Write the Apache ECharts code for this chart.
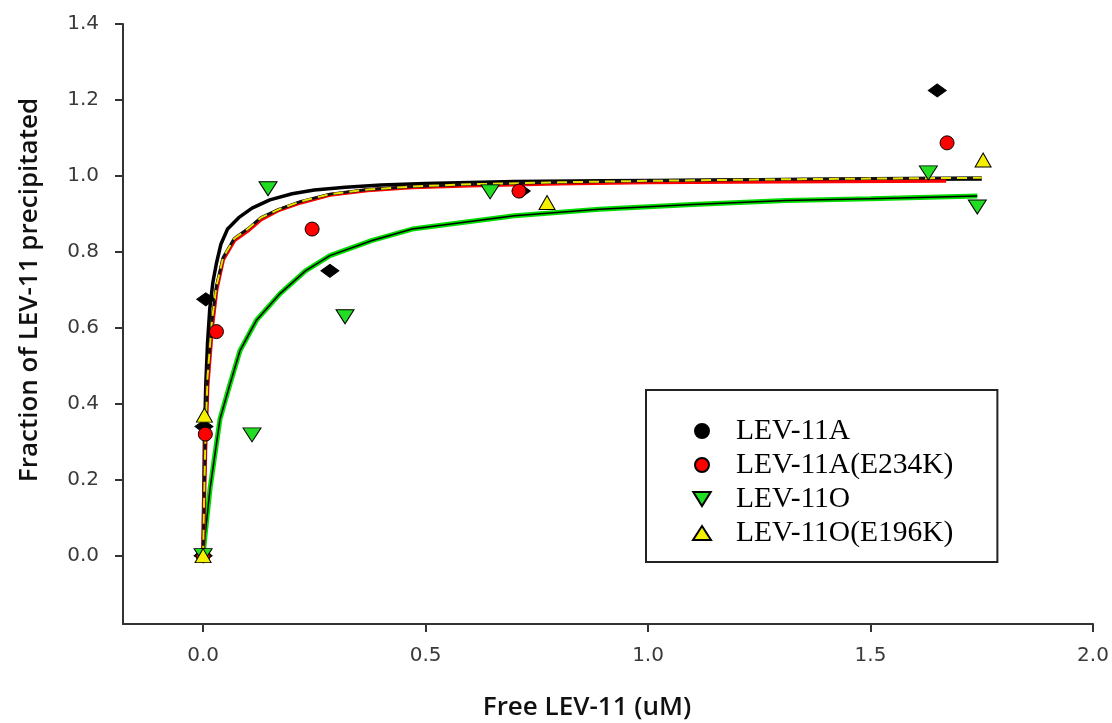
<!DOCTYPE html>
<html>
<head>
<meta charset="utf-8">
<title>LEV-11 binding</title>
<script src="https://cdn.jsdelivr.net/npm/echarts@6/dist/echarts.min.js"></script>
<style>
  html, body { margin: 0; padding: 0; background: #fff; }
  #main { width: 1112px; height: 723px; }
</style>
</head>
<body>
<div id="main"></div>
<script>
// measured points, [free LEV-11 (uM), fraction precipitated]
const lev11A = [[0, 0], [0.002, 0.34], [0.006, 0.675], [0.285, 0.75], [0.715, 0.96], [1.65, 1.225]]
const lev11AE234K = [[0, 0], [0.005, 0.32], [0.03, 0.59], [0.245, 0.86], [0.71, 0.96], [1.672, 1.087]]
const lev11O = [[0, 0], [0.11, 0.318], [0.146, 0.966], [0.319, 0.629], [0.645, 0.958], [1.63, 1.008], [1.74, 0.918]]
const lev11OE196K = [[0, 0], [0.003, 0.37], [0.773, 0.93], [1.753, 1.042]]

// fitted curves
const fitA = [[0, 0], [0.001, 0.12], [0.003, 0.3], [0.006, 0.45], [0.01, 0.56], [0.015, 0.65], [0.022, 0.72],
  [0.03, 0.77], [0.04, 0.82], [0.055, 0.86], [0.08, 0.89], [0.11, 0.915], [0.15, 0.937], [0.2, 0.953],
  [0.25, 0.963], [0.32, 0.97], [0.4, 0.976], [0.5, 0.98], [0.7, 0.985], [0.9, 0.987], [1.2, 0.989],
  [1.5, 0.991], [1.75, 0.992]]
const fitAE234K = [[0, 0], [0.002, 0.12], [0.005, 0.28], [0.01, 0.45], [0.02, 0.6], [0.03, 0.7], [0.045, 0.78],
  [0.07, 0.83], [0.1, 0.855], [0.13, 0.885], [0.17, 0.91], [0.22, 0.93], [0.285, 0.95], [0.37, 0.962],
  [0.47, 0.97], [0.6, 0.975], [0.8, 0.98], [1.0, 0.983], [1.3, 0.985], [1.67, 0.987]]
const fitO = [[0, 0], [0.005, 0.06], [0.016, 0.18], [0.038, 0.36], [0.06, 0.45], [0.083, 0.54], [0.12, 0.62],
  [0.173, 0.69], [0.23, 0.75], [0.285, 0.79], [0.38, 0.83], [0.47, 0.86], [0.6, 0.88], [0.7, 0.895],
  [0.89, 0.912], [1.1, 0.925], [1.31, 0.935], [1.5, 0.94], [1.74, 0.947]]
const fitOE196K = [[0, 0], [0.002, 0.13], [0.005, 0.3], [0.01, 0.47], [0.02, 0.62], [0.03, 0.71], [0.045, 0.785],
  [0.07, 0.835], [0.1, 0.86], [0.13, 0.89], [0.17, 0.912], [0.22, 0.933], [0.285, 0.952], [0.37, 0.964],
  [0.47, 0.972], [0.6, 0.978], [0.8, 0.983], [1.0, 0.987], [1.3, 0.991], [1.5, 0.993], [1.75, 0.995]]

const xTicks = [0, 0.5, 1.0, 1.5, 2.0]
const yTicks = [0, 0.2, 0.4, 0.6, 0.8, 1.0, 1.2, 1.4]
const names = ['LEV-11A', 'LEV-11A(E234K)', 'LEV-11O', 'LEV-11O(E196K)']

const tickFont = { fontFamily: 'DejaVu Sans', fontSize: 20, color: '#3a3a3a' }
const axisLine = { onZero: false, lineStyle: { color: '#333', width: 2 } }
const downTriangle = 'path://M0,0 L20,0 L10,16 Z'

function fitLine(data, color, width, extra) {
  return Object.assign({
    type: 'line',
    data: data,
    showSymbol: false,
    silent: true,
    lineStyle: { color: color, width: width },
    z: 2
  }, extra || {})
}

const option = {
  animation: false,
  backgroundColor: '#fff',
  grid: { left: 123, right: 19, top: 24, bottom: 99, outerBoundsMode: 'none' },
  xAxis: {
    type: 'value',
    min: -0.18,
    max: 2.0,
    axisLine: axisLine,
    splitLine: { show: false },
    axisTick: { customValues: xTicks, length: 8, lineStyle: { color: '#333', width: 2 } },
    axisLabel: Object.assign({ customValues: xTicks, margin: 22, formatter: v => v.toFixed(1) }, tickFont)
  },
  yAxis: {
    type: 'value',
    min: -0.18,
    max: 1.4,
    axisLine: axisLine,
    splitLine: { show: false },
    axisTick: { customValues: yTicks, length: 8, lineStyle: { color: '#333', width: 2 } },
    axisLabel: Object.assign({ customValues: yTicks, margin: 24, formatter: v => v.toFixed(1) }, tickFont)
  },
  legend: {
    orient: 'vertical',
    left: 646,
    top: 390,
    data: [
      { name: names[0], icon: 'circle' },
      { name: names[1], icon: 'circle' },
      { name: names[2], icon: downTriangle },
      names[3]
    ],
    padding: [26, 44, 14, 46],
    borderColor: '#222',
    borderWidth: 2,
    itemWidth: 18,
    itemHeight: 14,
    itemGap: 4,
    textStyle: { fontFamily: 'Liberation Serif', fontSize: 29.5, lineHeight: 28, color: '#000', padding: [0, 0, 0, 20] }
  },
  graphic: [
    {
      type: 'text', x: 30, y: 290, rotation: Math.PI / 2,
      style: { text: 'Fraction of LEV-11 precipitated', font: '600 26px "Open Sans"', fill: '#111', align: 'center', verticalAlign: 'middle' }
    },
    {
      type: 'text', x: 587, y: 708,
      style: { text: 'Free LEV-11 (uM)', font: '600 26px "Open Sans"', fill: '#111', align: 'center', verticalAlign: 'middle' }
    }
  ],
  series: [
    fitLine(fitO, '#00dd00', 5),
    fitLine(fitO, '#000', 1.5),
    fitLine(fitA, '#000', 3.5),
    fitLine(fitAE234K, '#ff0000', 4),
    fitLine(fitOE196K, '#111', 3),
    fitLine(fitOE196K, '#e8e000', 2, { lineStyle: { color: '#e8e000', width: 2, type: [10, 6] } }),
    {
      name: names[0], type: 'scatter', data: lev11A, symbol: 'diamond', symbolSize: [18, 13], z: 5,
      itemStyle: { color: '#000', borderColor: '#000', borderWidth: 1, opacity: 1 }
    },
    {
      name: names[1], type: 'scatter', data: lev11AE234K, symbol: 'circle', symbolSize: 14, z: 5,
      itemStyle: { color: '#ff0000', borderColor: '#000', borderWidth: 1, opacity: 1 }
    },
    {
      name: names[2], type: 'scatter', data: lev11O, symbol: 'triangle', symbolRotate: 180, symbolSize: [18, 14], z: 5,
      itemStyle: { color: '#22dd22', borderColor: '#000', borderWidth: 1, opacity: 1 }
    },
    {
      name: names[3], type: 'scatter', data: lev11OE196K, symbol: 'triangle', symbolSize: [16, 14], z: 5,
      itemStyle: { color: '#f4f000', borderColor: '#000', borderWidth: 1, opacity: 1 }
    }
  ]
}

const chart = echarts.init(document.getElementById('main'))
chart.setOption(option)
</script>
</body>
</html>
